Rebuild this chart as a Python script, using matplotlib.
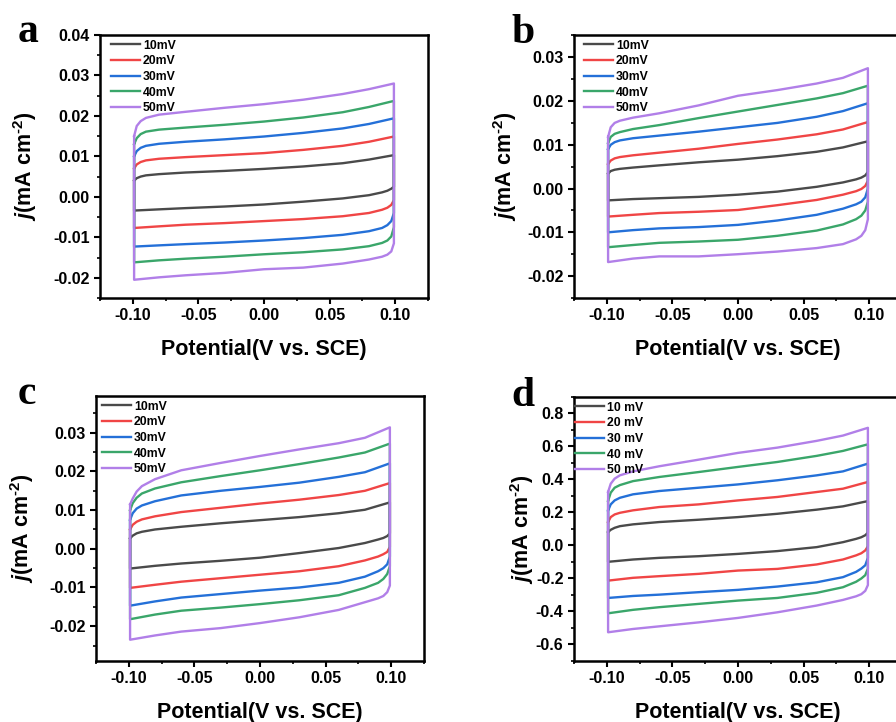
import matplotlib
matplotlib.use('Agg')
import matplotlib.pyplot as plt
from matplotlib.ticker import MultipleLocator, FormatStrFormatter

# ── Style ──────────────────────────────────────────────────────────
plt.rcParams.update({
    'font.family': 'Liberation Sans',
    'font.weight': 'bold',
    'mathtext.fontset': 'custom',
    'mathtext.rm': 'Liberation Sans:bold',
    'mathtext.it': 'Liberation Sans:italic:bold',
    'mathtext.bf': 'Liberation Sans:bold',
})

COLORS = ['#4a4a4a', '#f04545', '#2470d8', '#3aa66a', '#b17fe8']

# ── Potential grid for the two sweep directions (V vs. SCE) ────────
V_FWD = [-0.099, -0.097, -0.094, -0.09, -0.08, -0.06, -0.03, 0.0, 0.03, 0.06, 0.08, 0.099]
V_REV = [0.099, 0.097, 0.094, 0.09, 0.08, 0.06, 0.03, 0.0, -0.03, -0.06, -0.08, -0.099]

# ── Current density (mA cm-2), one row per scan rate 10..50 mV ─────
A_FWD = [
    [0.0040, 0.0046, 0.0050, 0.0053, 0.0056, 0.0060, 0.0064, 0.0069, 0.0075, 0.0083, 0.0092, 0.0103],
    [0.0070, 0.0080, 0.0086, 0.0090, 0.0094, 0.0098, 0.0103, 0.0108, 0.0116, 0.0126, 0.0136, 0.0149],
    [0.0100, 0.0113, 0.0121, 0.0126, 0.0131, 0.0136, 0.0142, 0.0149, 0.0158, 0.0169, 0.0180, 0.0194],
    [0.0130, 0.0145, 0.0155, 0.0161, 0.0166, 0.0171, 0.0178, 0.0186, 0.0196, 0.0209, 0.0222, 0.0237],
    [0.0150, 0.0175, 0.0187, 0.0195, 0.0203, 0.0210, 0.0220, 0.0229, 0.0240, 0.0254, 0.0266, 0.0280],
]
A_REV = [
    [0.0025, 0.0020, 0.0015, 0.0011, 0.0004, -0.0004, -0.0012, -0.0019, -0.0024, -0.0028, -0.0031, -0.0034],
    [-0.0008, -0.0020, -0.0027, -0.0032, -0.0040, -0.0048, -0.0055, -0.0060, -0.0065, -0.0069, -0.0073, -0.0077],
    [-0.0040, -0.0060, -0.0070, -0.0077, -0.0085, -0.0094, -0.0102, -0.0108, -0.0113, -0.0117, -0.0120, -0.0123],
    [-0.0075, -0.0098, -0.0108, -0.0114, -0.0122, -0.0130, -0.0137, -0.0142, -0.0148, -0.0153, -0.0157, -0.0162],
    [-0.0115, -0.0135, -0.0143, -0.0148, -0.0155, -0.0165, -0.0175, -0.0179, -0.0188, -0.0194, -0.0199, -0.0205],
]

B_FWD = [
    [0.0034, 0.0040, 0.0043, 0.0045, 0.0048, 0.0053, 0.0060, 0.0066, 0.0074, 0.0084, 0.0094, 0.0108],
    [0.0056, 0.0064, 0.0069, 0.0072, 0.0076, 0.0082, 0.0091, 0.0102, 0.0112, 0.0124, 0.0135, 0.0152],
    [0.0090, 0.0100, 0.0106, 0.0110, 0.0115, 0.0121, 0.0130, 0.0140, 0.0150, 0.0164, 0.0177, 0.0195],
    [0.0104, 0.0118, 0.0125, 0.0129, 0.0136, 0.0145, 0.0161, 0.0176, 0.0191, 0.0206, 0.0218, 0.0235],
    [0.0118, 0.0140, 0.0150, 0.0155, 0.0162, 0.0172, 0.0190, 0.0212, 0.0225, 0.0240, 0.0253, 0.0275],
]
B_REV = [
    [0.0038, 0.0030, 0.0025, 0.0021, 0.0014, 0.0004, -0.0007, -0.0014, -0.0019, -0.0022, -0.0024, -0.0027],
    [0.0018, 0.0006, -0.0001, -0.0006, -0.0014, -0.0026, -0.0038, -0.0049, -0.0053, -0.0056, -0.0060, -0.0064],
    [0.0000, -0.0020, -0.0030, -0.0036, -0.0046, -0.0060, -0.0073, -0.0083, -0.0088, -0.0091, -0.0095, -0.0100],
    [-0.0030, -0.0050, -0.0062, -0.0070, -0.0082, -0.0096, -0.0108, -0.0117, -0.0121, -0.0124, -0.0129, -0.0134],
    [-0.0070, -0.0095, -0.0108, -0.0116, -0.0127, -0.0136, -0.0144, -0.0150, -0.0155, -0.0155, -0.0160, -0.0168],
]

C_FWD = [
    [0.0027, 0.0034, 0.0040, 0.0044, 0.0050, 0.0057, 0.0066, 0.0074, 0.0082, 0.0092, 0.0101, 0.0120],
    [0.0050, 0.0062, 0.0070, 0.0076, 0.0084, 0.0095, 0.0106, 0.0117, 0.0127, 0.0139, 0.0150, 0.0170],
    [0.0075, 0.0092, 0.0104, 0.0112, 0.0123, 0.0138, 0.0150, 0.0160, 0.0171, 0.0186, 0.0198, 0.0221],
    [0.0100, 0.0118, 0.0132, 0.0143, 0.0156, 0.0172, 0.0188, 0.0203, 0.0219, 0.0236, 0.0249, 0.0272],
    [0.0115, 0.0130, 0.0148, 0.0162, 0.0180, 0.0203, 0.0222, 0.0240, 0.0257, 0.0273, 0.0287, 0.0314],
]
C_REV = [
    [0.0040, 0.0033, 0.0028, 0.0024, 0.0015, 0.0002, -0.0011, -0.0023, -0.0031, -0.0038, -0.0044, -0.0051],
    [0.0005, -0.0008, -0.0014, -0.0020, -0.0030, -0.0045, -0.0058, -0.0067, -0.0076, -0.0085, -0.0093, -0.0101],
    [-0.0020, -0.0040, -0.0050, -0.0058, -0.0072, -0.0088, -0.0100, -0.0108, -0.0117, -0.0126, -0.0136, -0.0147],
    [-0.0045, -0.0065, -0.0078, -0.0088, -0.0101, -0.0120, -0.0133, -0.0143, -0.0152, -0.0160, -0.0170, -0.0182],
    [-0.0095, -0.0112, -0.0122, -0.0128, -0.0138, -0.0158, -0.0177, -0.0192, -0.0205, -0.0214, -0.0224, -0.0235],
]

D_FWD = [
    [0.081, 0.095, 0.107, 0.117, 0.128, 0.142, 0.156, 0.172, 0.192, 0.217, 0.237, 0.269],
    [0.142, 0.172, 0.188, 0.198, 0.213, 0.233, 0.249, 0.273, 0.294, 0.324, 0.344, 0.385],
    [0.212, 0.249, 0.273, 0.289, 0.310, 0.330, 0.350, 0.370, 0.395, 0.425, 0.449, 0.496],
    [0.270, 0.320, 0.350, 0.366, 0.390, 0.415, 0.445, 0.476, 0.506, 0.543, 0.573, 0.613],
    [0.324, 0.374, 0.405, 0.425, 0.449, 0.480, 0.520, 0.561, 0.593, 0.634, 0.666, 0.713],
]
D_REV = [
    [0.078, 0.062, 0.050, 0.040, 0.020, -0.010, -0.034, -0.051, -0.065, -0.075, -0.085, -0.099],
    [-0.005, -0.030, -0.047, -0.060, -0.085, -0.115, -0.142, -0.152, -0.172, -0.186, -0.196, -0.213],
    [-0.075, -0.120, -0.140, -0.160, -0.192, -0.223, -0.249, -0.269, -0.283, -0.298, -0.306, -0.318],
    [-0.140, -0.180, -0.200, -0.220, -0.253, -0.287, -0.318, -0.334, -0.354, -0.374, -0.390, -0.411],
    [-0.240, -0.275, -0.295, -0.308, -0.330, -0.364, -0.405, -0.439, -0.466, -0.490, -0.506, -0.526],
]

LABELS_ABC = ['10mV', '20mV', '30mV', '40mV', '50mV']
LABELS_D = ['10 mV', '20 mV', '30 mV', '40 mV', '50 mV']


def draw_panel(fig, rect, fwd, rev, labels, ylim, ymajor, yfmt, letter, letter_xy,
               ylabelpad=9, legend_x=0.01):
    ax = fig.add_axes(rect)
    for j_fwd, j_rev, color, label in zip(fwd, rev, COLORS, labels):
        # closed CV loop: anodic sweep then cathodic sweep back to start
        x = V_FWD + V_REV + V_FWD[:1]
        y = j_fwd + j_rev + j_fwd[:1]
        ax.plot(x, y, color=color, lw=1.7, label=label, solid_joinstyle='round')

    ax.set_xlim(-0.125, 0.125)
    ax.set_ylim(*ylim)
    ax.xaxis.set_major_locator(MultipleLocator(0.05))
    ax.xaxis.set_minor_locator(MultipleLocator(0.025))
    ax.xaxis.set_major_formatter(FormatStrFormatter('%.2f'))
    ax.yaxis.set_major_locator(MultipleLocator(ymajor))
    ax.yaxis.set_minor_locator(MultipleLocator(ymajor / 2))
    ax.yaxis.set_major_formatter(FormatStrFormatter(yfmt))
    ax.tick_params(which='major', direction='out', length=4.5, width=1.5,
                   labelsize=11.5, pad=3, top=False, right=False)
    ax.tick_params(which='minor', direction='out', length=2.5, width=1.2,
                   top=False, right=False)
    for lbl in ax.get_xticklabels() + ax.get_yticklabels():
        lbl.set_fontweight('bold')
    for s in ax.spines.values():
        s.set_linewidth(1.8)

    ax.set_xlabel('Potential(V vs. SCE)', fontsize=15.5, fontweight='bold', labelpad=11)
    ax.set_ylabel(r'$j$(mA cm$^{\text{-}2}$)', fontsize=15.5, fontweight='bold',
                  labelpad=ylabelpad)

    ax.legend(loc='upper left', bbox_to_anchor=(legend_x, 1.01), frameon=False,
              prop={'weight': 'bold', 'size': 8.8}, handlelength=2.4,
              handletextpad=0.25, labelspacing=0.3, borderaxespad=0.2)

    fig.text(letter_xy[0], letter_xy[1], letter, family='Liberation Serif',
             fontweight='bold', fontsize=30, ha='left', va='baseline')
    return ax


fig = plt.figure(figsize=(8.96, 7.22), dpi=100)

draw_panel(fig, [0.1116, 0.5873, 0.3661, 0.3643], A_FWD, A_REV, LABELS_ABC,
           (-0.025, 0.04), 0.01, '%.2f', 'a', (18 / 896, 1 - 42 / 722),
           ylabelpad=10, legend_x=0.01)
draw_panel(fig, [0.6406, 0.5873, 0.3661, 0.3643], B_FWD, B_REV, LABELS_ABC,
           (-0.025, 0.0351), 0.01, '%.2f', 'b', (511 / 896, 1 - 43 / 722),
           ylabelpad=6, legend_x=0.007)
draw_panel(fig, [0.1071, 0.0845, 0.3661, 0.3670], C_FWD, C_REV, LABELS_ABC,
           (-0.029, 0.0395), 0.01, '%.2f', 'c', (18 / 896, 1 - 404 / 722),
           ylabelpad=9, legend_x=-0.005)
draw_panel(fig, [0.6406, 0.0845, 0.3661, 0.3657], D_FWD, D_REV, LABELS_D,
           (-0.7, 0.9), 0.2, '%.1f', 'd', (511 / 896, 1 - 406 / 722),
           ylabelpad=0, legend_x=-0.02)

fig.savefig('out.png', dpi=100)
